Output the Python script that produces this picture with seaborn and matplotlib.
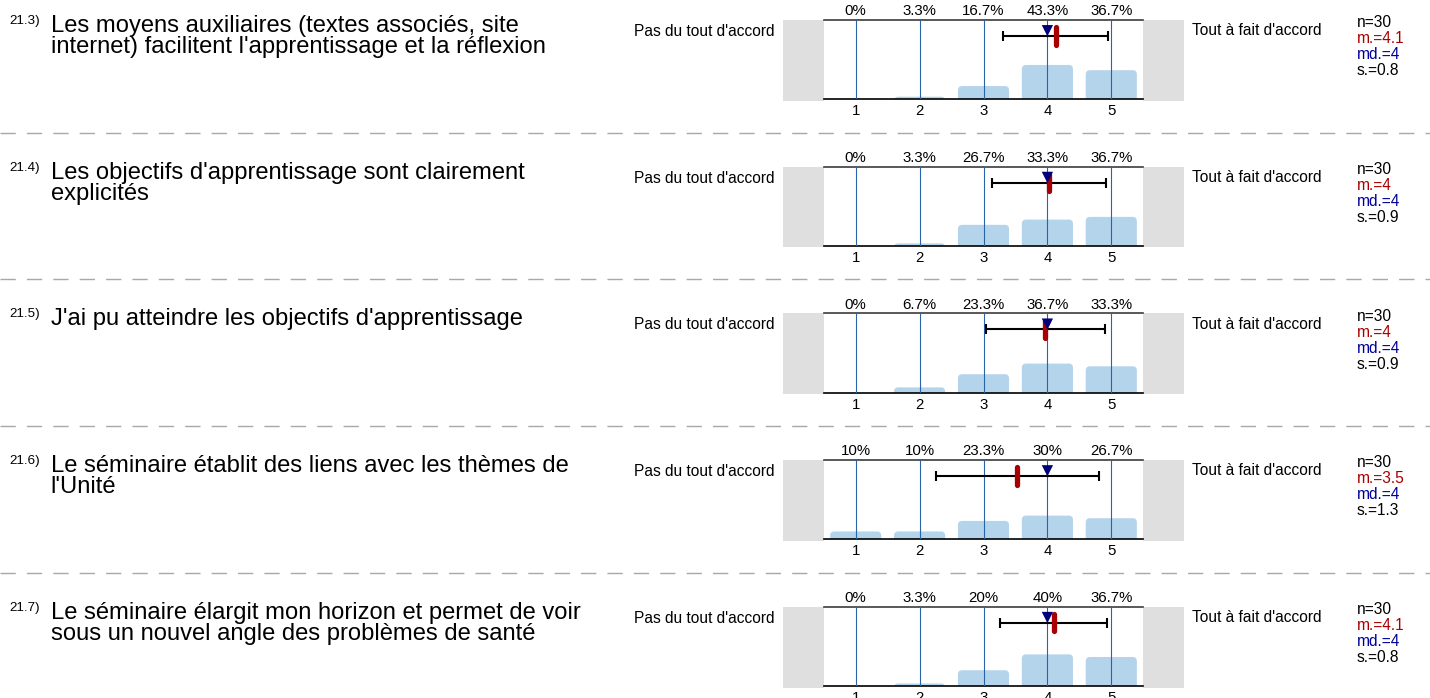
import numpy as np
import pandas as pd
import matplotlib
matplotlib.use("Agg")
import matplotlib.pyplot as plt
import seaborn as sns
from matplotlib.patches import FancyBboxPatch, Rectangle
from matplotlib.lines import Line2D

# ---------------- data ----------------
item_ids = ["21.3)", "21.4)", "21.5)", "21.6)", "21.7)"]
questions = [
    "Les moyens auxiliaires (textes associés, site\ninternet) facilitent l'apprentissage et la réflexion",
    "Les objectifs d'apprentissage sont clairement\nexplicités",
    "J'ai pu atteindre les objectifs d'apprentissage",
    "Le séminaire établit des liens avec les thèmes de\nl'Unité",
    "Le séminaire élargit mon horizon et permet de voir\nsous un nouvel angle des problèmes de santé",
]
scale = [1, 2, 3, 4, 5]
pct_313 = [0, 3.3, 16.7, 43.3, 36.7]
pct_314 = [0, 3.3, 26.7, 33.3, 36.7]
pct_315 = [0, 6.7, 23.3, 36.7, 33.3]
pct_316 = [10, 10, 23.3, 30, 26.7]
pct_317 = [0, 3.3, 20, 40, 36.7]
pct_rows = [pct_313, pct_314, pct_315, pct_316, pct_317]
n_resp = [30, 30, 30, 30, 30]
means = [4.13, 4.03, 3.97, 3.53, 4.10]
medians = [4, 4, 4, 4, 4]
sds = [0.82, 0.89, 0.93, 1.28, 0.84]
left_label = "Pas du tout d'accord"
right_label = "Tout à fait d'accord"

# ---------------- style ----------------
sns.set_style("white")
plt.rcParams["font.family"] = ["Liberation Sans", "DejaVu Sans"]
plt.rcParams["text.color"] = "black"
plt.rcParams["xtick.color"] = "black"
plt.rcParams["xtick.labelcolor"] = "black"

BAR = "#b4d4ec"
GRID = "#2a64a8"
GRAY = "#dfdfdf"
MEAN_C = "#a80000"
MED_C = "#00007a"
SEP_C = "#a8a8a8"
SMALL = 10.8

W, H, DPI = 1430, 698, 100
ROW = 146.7
AX_L, AX_R = 823.75, 1143.25
AX_T, AX_B = 20.0, 99.3

fig = plt.figure(figsize=(W / DPI, H / DPI), dpi=DPI)
fig.patch.set_facecolor("white")


def fx(px):
    return px / W


def fy(py):
    return 1 - py / H


ax_w = AX_R - AX_L
ax_h = AX_B - AX_T
aspect = (100 / ax_h) / (5 / ax_w)

for i in range(5):
    r = i * ROW
    ax = fig.add_axes([fx(AX_L), fy(AX_B + r), ax_w / W, ax_h / H])
    df = pd.DataFrame({"score": scale, "pct": pct_rows[i]})
    sns.barplot(data=df, x="score", y="pct", native_scale=True, width=0.8,
                color=BAR, saturation=1, errorbar=None, ax=ax)
    # rounded bar tops
    for p in list(ax.patches):
        x0, w, h = p.get_x(), p.get_width(), p.get_height()
        p.remove()
        ax.add_patch(FancyBboxPatch((x0, -14), w, h + 14,
                                    boxstyle="round,pad=0,rounding_size=0.065",
                                    mutation_aspect=aspect, fc=BAR, ec="none", zorder=1))
    ax.set_xlim(0.5, 5.5)
    ax.set_ylim(0, 100)
    ax.set_xlabel("")
    ax.set_ylabel("")
    ax.set_yticks([])
    ax.set_xticks(scale)
    ax.set_xticklabels([str(s) for s in scale])
    ax.tick_params(axis="x", length=0, pad=3.5, labelsize=SMALL)
    ax.grid(axis="x", color=GRID, lw=0.8)
    ax.set_axisbelow(False)
    for s in ("left", "right"):
        ax.spines[s].set_visible(False)
    ax.spines["top"].set_color("#3c3c3c")
    ax.spines["top"].set_linewidth(1.2)
    ax.spines["bottom"].set_color("black")
    ax.spines["bottom"].set_linewidth(1.2)

    # percentages on top
    for x, p in zip(scale, pct_rows[i]):
        ax.annotate(f"{p:g}%", xy=(x, 1), xycoords=ax.get_xaxis_transform(),
                    xytext=(0, 3.4), textcoords="offset points",
                    ha="center", va="baseline", fontsize=SMALL)

    # grey end boxes
    ax.add_patch(Rectangle((0.5 - 0.63, -0.018), 0.63, 1.018,
                           transform=ax.get_xaxis_transform(), clip_on=False,
                           fc=GRAY, ec="none", zorder=0))
    ax.add_patch(Rectangle((5.5, -0.018), 0.64, 1.018,
                           transform=ax.get_xaxis_transform(), clip_on=False,
                           fc=GRAY, ec="none", zorder=0))

    # std error bar, mean and median
    m, md, sd = means[i], medians[i], sds[i]
    ax.errorbar(m, 80, xerr=sd, fmt="none", ecolor="black", elinewidth=1.5,
                capsize=3.3, capthick=1.5, zorder=4)
    ax.plot([m, m], [69, 91], color=MEAN_C, lw=3.8, solid_capstyle="round", zorder=5)
    sns.scatterplot(x=[md], y=[86.5], marker="v", s=66, color=MED_C,
                    edgecolor="none", ax=ax, zorder=6)

    # texts
    fig.text(fx(9), fy(21.0 + r), item_ids[i], fontsize=9.6, ha="left", va="center")
    fig.text(fx(50.5), fy(14.8 + r), questions[i], fontsize=17.1, ha="left",
             va="top", linespacing=0.95)
    fig.text(fx(775), fy(31.5 + r), left_label, fontsize=11.2, ha="right", va="center")
    fig.text(fx(1191.7), fy(30.7 + r), right_label, fontsize=11.2, ha="left", va="center")

    stats = [(f"n={n_resp[i]}", "black"),
             (f"m.={round(m, 1):g}", MEAN_C),
             (f"md.={md:g}", "#000099"),
             (f"s.={round(sd, 1):g}", "black")]
    for k, (t, c) in enumerate(stats):
        fig.text(fx(1356.7), fy(22.7 + r + 16 * k), t, fontsize=11.2, color=c,
                 ha="left", va="center")

    if i < 4:
        fig.add_artist(Line2D([0, 1], [fy(132.7 + r)] * 2, transform=fig.transFigure,
                              color=SEP_C, lw=1.0, linestyle=(0, (11, 8))))

fig.savefig("out.png", dpi=DPI)
